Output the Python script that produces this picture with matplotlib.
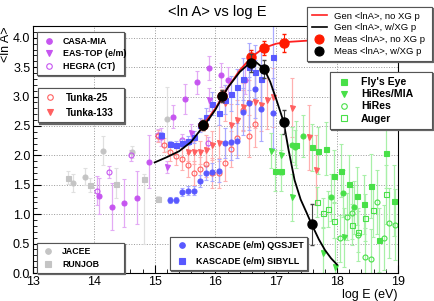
import matplotlib
matplotlib.use("Agg")
import matplotlib.pyplot as plt
from matplotlib.lines import Line2D
from matplotlib.ticker import MultipleLocator

plt.rcParams['font.family'] = ['Liberation Sans', 'DejaVu Sans']

# ---- data ----
# direct measurements (gray)
jacee_x = [13.65, 13.85, 14.15, 14.62, 15.2]
jacee_y = [1.53, 1.64, 2.08, 2.06, 2.62]
jacee_e = [0.15, 0.15, 0.25, 0.1, 0.55]
runjob_x = [13.58, 13.93, 14.37, 14.82, 15.05]
runjob_y = [1.62, 1.49, 1.52, 1.60, 1.26]
runjob_lo = [0.1, 0.12, 0.25, 1.1, 0.05]
runjob_hi = [0.12, 0.12, 0.27, 0.08, 0.05]

# violet
casa_x = [14.09, 14.30, 14.50, 14.71, 14.90, 15.11, 15.30, 15.50, 15.70, 15.90, 16.09, 16.21, 16.49]
casa_y = [1.31, 1.13, 1.19, 1.28, 1.89, 2.31, 2.66, 2.96, 3.24, 3.49, 3.37, 3.28, 3.28]
casa_e = [0.3, 0.4, 0.4, 0.45, 0.45, 0.15, 0.2, 0.25, 0.2, 0.2, 0.2, 0.23, 0.23]
eastop_x = [15.2, 15.6, 15.9]
eastop_y = [1.80, 2.38, 2.95]
eastop_e = [0.1, 0.15, 0.2]
hegra_x = [14.05, 14.25, 14.61, 15.06, 15.45, 15.88]
hegra_y = [1.40, 1.72, 2.00, 2.35, 2.26, 2.21]
hegra_e = [0.25, 0.1, 0.1, 0.1, 0.1, 0.1]

# Tunka (red)
t25_x = [15.05, 15.15, 15.25, 15.35, 15.45, 15.55, 15.65, 15.75, 15.85, 15.95,
         16.05, 16.15, 16.25, 16.35, 16.45, 16.55, 16.65]
t25_y = [2.33, 2.18, 2.06, 1.99, 1.94, 1.84, 1.70, 1.77, 1.85, 1.70,
         1.70, 1.87, 2.11, 2.30, 2.77, 2.33, 2.54]
t25_e = [0.1, 0.12, 0.15, 0.15, 0.18, 0.2, 0.2, 0.2, 0.22, 0.25,
         0.25, 0.3, 0.3, 0.3, 0.35, 0.35, 0.4]
t133_x = [15.55, 15.65, 15.75, 15.85, 15.95, 16.05, 16.15, 16.25, 16.35, 16.45,
          16.55, 16.65, 16.75, 16.85, 16.95, 17.26, 17.54, 17.66]
t133_y = [2.06, 2.05, 2.05, 2.09, 2.17, 2.21, 2.89, 2.52, 2.60, 2.83,
          2.89, 2.91, 2.86, 2.95, 2.99, 2.81, 2.31, 1.75]
t133_e = [0.15, 0.2, 0.2, 0.25, 0.25, 0.3, 0.3, 0.35, 0.35, 0.4,
          0.4, 0.45, 0.45, 0.5, 0.5, 0.5, 0.55, 0.6]

# KASCADE (blue)
kq_x = [15.25, 15.35, 15.45, 15.55, 15.65, 15.75, 15.85, 15.95, 16.05,
        16.15, 16.25, 16.35, 16.45, 16.55, 16.65, 16.75, 16.95]
kq_y = [1.24, 1.24, 1.38, 1.40, 1.40, 1.57, 1.70, 1.72, 1.74,
        2.21, 2.23, 2.25, 2.74, 2.89, 3.13, 2.79, 2.72]
kq_e = [0.05, 0.05, 0.07, 0.08, 0.08, 0.1, 0.12, 0.15, 0.2,
        0.25, 0.3, 0.3, 0.4, 0.45, 0.5, 0.55, 0.6]
ks_x = [15.10, 15.25, 15.35, 15.45, 15.55, 15.65, 15.75, 15.85, 15.95, 16.05,
        16.15, 16.25, 16.35, 16.45, 16.55, 16.65, 16.75, 16.95]
ks_y = [2.35, 2.20, 2.18, 2.21, 2.25, 2.31, 2.52, 2.65, 2.88, 2.72,
        2.95, 3.05, 3.17, 3.30, 3.51, 3.42, 3.30, 3.68]
ks_e = [0.05, 0.05, 0.06, 0.07, 0.08, 0.1, 0.12, 0.15, 0.2, 0.2,
        0.25, 0.3, 0.3, 0.35, 0.4, 0.45, 0.5, 0.55]

# UHE (green)
fly_x = [16.97, 17.08, 17.33, 17.58, 17.69, 17.82, 17.94, 18.07, 18.19,
         18.32, 18.44, 18.56, 18.68, 18.81, 18.93]
fly_y = [1.74, 1.74, 2.18, 2.14, 2.08, 2.11, 1.65, 1.74, 1.51,
         1.31, 1.17, 1.48, 0.56, 2.04, 1.23]
fly_e = [0.35, 0.35, 0.4, 0.4, 0.4, 0.45, 0.45, 0.45, 0.5,
         0.5, 0.5, 0.55, 0.55, 0.6, 0.6]
hrmia_x = [16.92, 17.08, 17.26, 17.77, 17.96, 18.12]
hrmia_y = [2.08, 2.01, 1.29, 0.34, 0.10, 0.61]
hrmia_e = [0.3, 0.35, 0.4, 0.45, 0.5, 0.5]
hires_x = [18.04, 18.16, 18.25, 18.35, 18.45, 18.55, 18.66, 18.77, 18.85, 18.95]
hires_y = [0.59, 0.96, 1.02, 0.65, 0.27, 0.24, 1.21, 0.60, 0.85, 0.82]
hires_e = [0.4, 0.4, 0.45, 0.45, 0.5, 0.5, 0.55, 0.55, 0.6, 0.6]
auger_x = [17.67, 17.76, 17.85, 17.95, 18.25, 18.35, 18.46, 18.59, 18.80]
auger_y = [1.21, 1.02, 1.09, 0.89, 0.82, 0.70, 0.94, 1.07, 1.34]
auger_e = [0.25, 0.25, 0.3, 0.3, 0.35, 0.35, 0.4, 0.45, 0.5]
grc_x = [17.26, 17.31, 17.44, 17.90, 18.10, 18.28]
grc_y = [2.18, 2.14, 2.33, 1.29, 1.36, 1.12]
grc_e = [0.3, 0.3, 0.35, 0.4, 0.4, 0.45]

# generated / measured <lnA>
gen_no_x = [15.8, 16.0, 16.2, 16.4, 16.6, 16.8, 17.0, 17.2, 17.5, 18.0, 18.5, 19.0]
gen_no_y = [2.52, 2.80, 3.15, 3.45, 3.68, 3.83, 3.90, 3.93, 3.95, 3.96, 3.96, 3.96]
gen_xg_x = [15.0, 15.2, 15.4, 15.6, 15.75, 15.9, 16.0, 16.2, 16.4, 16.55, 16.65,
            16.8, 16.9, 17.0, 17.12, 17.2, 17.3, 17.4, 17.5, 17.58, 17.7, 17.8, 17.9, 18.0]
gen_xg_y = [1.88, 1.97, 2.07, 2.23, 2.43, 2.63, 2.78, 3.15, 3.42, 3.56, 3.60,
            3.47, 3.25, 2.95, 2.57, 2.10, 1.58, 1.25, 1.02, 0.83, 0.57, 0.39, 0.25, 0.14]
meas_x = [15.80, 16.11, 16.59, 16.80, 17.12, 17.58]
meas_no_y = [2.52, 3.01, 3.68, 3.83, 3.91]
meas_no_e = [0.08, 0.1, 0.12, 0.12, 0.15]
meas_xg_y = [2.52, 3.01, 3.57, 3.47, 2.57, 0.83]
meas_xg_e = [0.08, 0.1, 0.15, 0.15, 0.2, 0.35]

VIOLET, VIOLET_E = '#c655f0', '#e3aaf5'
RED, RED_E = '#ff6060', '#ffb0b0'
BLUE, BLUE_E = '#5858ff', '#aaaaff'
GREEN, GREEN_E = '#48e048', '#a8f0a8'
GRAY, GRAY_E = '#c4c4c4', '#e0e0e0'

fig = plt.figure(figsize=(4.35, 3.01), dpi=100)
ax = fig.add_axes([0.0759, 0.093, 0.839, 0.8206])


def series(x, y, err, color, ecolor, marker, filled=True, ms=3.6):
    ax.errorbar(x, y, yerr=err, fmt=marker, color=color, ecolor=ecolor,
                elinewidth=0.9, capsize=1.2, capthick=0.9, ms=ms,
                mfc=color if filled else 'none', mec=color, mew=0.8, zorder=2)


series(jacee_x, jacee_y, jacee_e, GRAY, GRAY_E, 'o')
series(runjob_x, runjob_y, [runjob_lo, runjob_hi], GRAY, GRAY_E, 's')
series(casa_x, casa_y, casa_e, VIOLET, VIOLET_E, 'o')
series(eastop_x, eastop_y, eastop_e, VIOLET, VIOLET_E, 'v')
series(hegra_x, hegra_y, hegra_e, VIOLET, VIOLET_E, 'o', filled=False)
series(t25_x, t25_y, t25_e, RED, RED_E, 'o', filled=False)
series(t133_x, t133_y, t133_e, RED, RED_E, 'v')
series(kq_x, kq_y, kq_e, BLUE, BLUE_E, 'o')
series(ks_x, ks_y, ks_e, BLUE, BLUE_E, 's')
series(fly_x, fly_y, fly_e, GREEN, GREEN_E, 's')
series(hrmia_x, hrmia_y, hrmia_e, GREEN, GREEN_E, 'v')
series(hires_x, hires_y, hires_e, GREEN, GREEN_E, 'o', filled=False)
series(auger_x, auger_y, auger_e, GREEN, GREEN_E, 's', filled=False)
series(grc_x, grc_y, grc_e, GREEN, GREEN_E, 'o')

ax.plot(gen_no_x, gen_no_y, color='#ff2020', lw=1.3, zorder=4)
ax.plot(gen_xg_x, gen_xg_y, color='black', lw=1.3, zorder=4)
ax.errorbar(meas_x[:5], meas_no_y, yerr=meas_no_e, fmt='o', color='#ff1a00',
            ms=6.5, elinewidth=0.8, capsize=1.5, zorder=5)
ax.errorbar(meas_x, meas_xg_y, yerr=meas_xg_e, fmt='o', color='black',
            ecolor='#444444', ms=6.5, elinewidth=0.8, capsize=1.5, zorder=6)

ax.set_xlim(13, 19)
ax.set_ylim(0, 4.2)
ax.xaxis.set_major_locator(MultipleLocator(1))
ax.xaxis.set_minor_locator(MultipleLocator(0.2))
ax.yaxis.set_major_locator(MultipleLocator(0.5))
ax.yaxis.set_minor_locator(MultipleLocator(0.1))
ax.tick_params(which='both', direction='in', labelsize=9, pad=2)
ax.tick_params(which='major', length=6)
ax.tick_params(which='minor', length=3)
ax.grid(True, which='major', ls=':', color='#999999', lw=0.7)
ax.set_xlabel('log E (eV)', loc='right', fontsize=9, labelpad=1)
ax.set_ylabel('<ln A>', loc='top', fontsize=9)
ax.yaxis.set_label_coords(-0.058, 1.0)
fig.text(0.5, 0.96, '<ln A> vs log E', ha='center', va='center', fontsize=10.5)


def h(marker, color, filled=True, ms=4):
    return Line2D([], [], ls='none', marker=marker, color=color, ms=ms,
                  mfc=color if filled else 'none', mew=0.8)


def box(handles, labels, left, top, w, hgt, size, bold=True, spacing=0.5):
    leg = fig.legend(handles, labels, loc='upper left',
                     bbox_to_anchor=(left, top - hgt, w, hgt),
                     mode='expand', frameon=True, fancybox=False,
                     edgecolor='#555555', borderpad=0.5, labelspacing=spacing,
                     handlelength=1.6, handletextpad=0.8, borderaxespad=0,
                     prop={'size': size, 'weight': 'bold' if bold else 'normal'},
                     shadow={'color': '#666666', 'alpha': 1, 'ox': 0.8, 'oy': -0.8})
    leg.get_frame().set_linewidth(0.8)
    fig.add_artist(leg)
    return leg


box([h('o', VIOLET), h('v', VIOLET), h('o', VIOLET, False)],
    ['CASA-MIA', 'EAS-TOP (e/m)', 'HEGRA (CT)'],
    0.085, 0.893, 0.2, 0.14, 6.4, spacing=0.4)
box([h('o', RED, False), h('v', RED)], ['Tunka-25', 'Tunka-133'],
    0.087, 0.708, 0.198, 0.1, 7.0)
box([Line2D([], [], color='#ff2020', lw=1.2), Line2D([], [], color='black', lw=1.2),
     h('o', '#ff1a00', ms=6.5), h('o', 'black', ms=6.5)],
    ['Gen <lnA>, no XG p', 'Gen <lnA>, w/XG p',
     'Meas <lnA>, no XG p', 'Meas <lnA>, w/XG p'],
    0.706, 0.977, 0.287, 0.18, 6.8, bold=False, spacing=0.3)
box([h('s', GREEN), h('v', GREEN), h('o', GREEN, False), h('s', GREEN, False)],
    ["Fly's Eye", 'HiRes/MIA', 'HiRes', 'Auger'],
    0.759, 0.761, 0.234, 0.18, 7.6, spacing=0.2)
box([h('o', GRAY), h('s', GRAY)], ['JACEE', 'RUNJOB'],
    0.085, 0.193, 0.2, 0.08, 6.3, spacing=0.4)
box([h('o', BLUE), h('s', BLUE)],
    ['KASCADE (e/m) QGSJET', 'KASCADE (e/m) SIBYLL'],
    0.391, 0.213, 0.315, 0.1, 6.5, spacing=0.7)

fig.savefig('out.png', dpi=100)
